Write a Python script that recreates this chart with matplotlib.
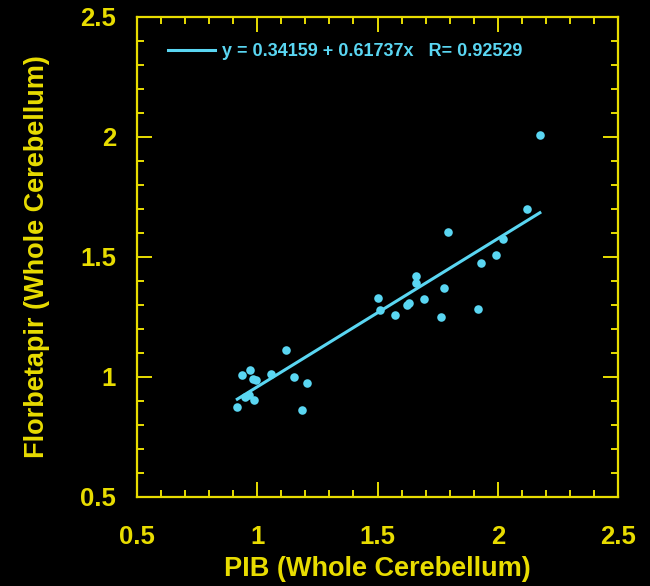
import matplotlib.pyplot as plt
import numpy as np
from matplotlib.ticker import MultipleLocator

# PIB vs Florbetapir SUVR
pib = [0.917, 0.936, 0.971, 0.983, 0.996, 1.058, 1.121, 1.154, 1.208, 0.950,
       0.967, 0.988, 1.188, 1.501, 1.510, 1.571, 1.624, 1.630, 1.658, 1.658,
       1.693, 1.765, 1.776, 1.794, 1.917, 1.930, 1.994, 2.020, 2.121, 2.175]
florbetapir = [0.875, 1.008, 1.029, 0.992, 0.988, 1.013, 1.113, 1.000, 0.975, 0.917,
               0.925, 0.904, 0.863, 1.330, 1.279, 1.260, 1.300, 1.307, 1.392, 1.422,
               1.326, 1.249, 1.371, 1.605, 1.283, 1.475, 1.510, 1.574, 1.700, 2.007]
intercept = 0.34159
slope = 0.61737
r_value = 0.92529

yellow = "#e8dc00"
cyan = "#5ad6f2"
plt.rcParams['font.family'] = ['Liberation Sans', 'DejaVu Sans']
plt.rcParams['font.weight'] = 'bold'

fig = plt.figure(figsize=(6.5, 5.86), dpi=100, facecolor="black")
ax = fig.add_axes([0.2108, 0.1519, 0.74, 0.8191], facecolor="black")

ax.scatter(pib, florbetapir, s=38, color=cyan, zorder=3, linewidths=0)
xs = np.array([min(pib), max(pib)])
ax.plot(xs, intercept + slope * xs, color=cyan, lw=2.2,
        label=f"y = {intercept} + {slope}x   R= {r_value}")

ax.set_xlim(0.5, 2.5)
ax.set_ylim(0.5, 2.5)
ax.xaxis.set_major_locator(MultipleLocator(0.5))
ax.yaxis.set_major_locator(MultipleLocator(0.5))
ax.xaxis.set_minor_locator(MultipleLocator(0.1))
ax.yaxis.set_minor_locator(MultipleLocator(0.1))
ax.xaxis.set_major_formatter(plt.FuncFormatter(lambda v, p: f"{v:g}"))
ax.yaxis.set_major_formatter(plt.FuncFormatter(lambda v, p: f"{v:g}"))

for s in ax.spines.values():
    s.set_color(yellow)
    s.set_linewidth(1.6)
ax.tick_params(which="both", direction="in", top=True, right=True,
               colors=yellow, labelsize=18.5, width=1.4)
ax.tick_params(which="major", length=11)
ax.tick_params(axis="x", which="major", pad=20)
ax.tick_params(axis="y", which="major", pad=15)
ax.tick_params(which="minor", length=5)
for lab in ax.get_xticklabels() + ax.get_yticklabels():
    lab.set_fontweight("bold")

ax.set_xlabel("PIB (Whole Cerebellum)", color=yellow, fontsize=19.5,
              fontweight="bold")
ax.set_ylabel("Florbetapir (Whole Cerebellum)", color=yellow, fontsize=19.5,
              fontweight="bold")
ax.xaxis.set_label_coords(0.5, -0.122)
ax.yaxis.set_label_coords(-0.18, 0.5)

leg = ax.legend(loc="upper left", frameon=False, fontsize=13, handlelength=2.6,
                handletextpad=0.4, borderaxespad=0.9, labelcolor=cyan,
                bbox_to_anchor=(0.015, 0.994))

fig.savefig("out.png", dpi=100, facecolor="black")
